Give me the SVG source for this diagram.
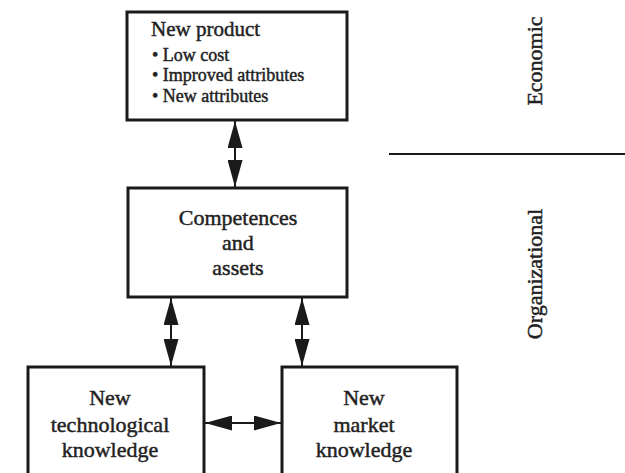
<svg xmlns="http://www.w3.org/2000/svg" width="625" height="473" viewBox="0 0 625 473">
  <style>
    .box { fill: #ffffff; stroke: #1a1a1a; stroke-width: 3; }
    .txt { font-family: "Liberation Serif", "Times New Roman", serif; fill: #222222; stroke: #222222; stroke-width: 0.45; }
    .title { font-size: 21px; }
    .item { font-size: 18px; }
    .label { font-size: 22px; text-anchor: middle; }
    .side { font-size: 22px; text-anchor: middle; }
    .link { stroke: #1a1a1a; stroke-width: 2; fill: none; marker-start: url(#head); marker-end: url(#head); }
    .rule { stroke: #1a1a1a; stroke-width: 2; }
  </style>
  <defs>
    <marker id="head" viewBox="0 0 27 15" refX="27" refY="7.5" markerWidth="27" markerHeight="15" markerUnits="userSpaceOnUse" orient="auto-start-reverse">
      <path d="M0,0 L27,7.5 L0,15 Z" fill="#1a1a1a"/>
    </marker>
  </defs>
  <rect width="625" height="473" fill="#ffffff"/>

  <g id="connectors">
    <line class="link" x1="235" y1="121" x2="235" y2="187"/>
    <line class="link" x1="171" y1="298" x2="171" y2="366"/>
    <line class="link" x1="302" y1="298" x2="302" y2="366"/>
    <line class="link" x1="205" y1="423" x2="281" y2="423"/>
  </g>

  <g id="new-product">
    <rect class="box" x="127" y="12" width="220" height="108"/>
    <text class="txt title" x="151" y="36">New product</text>
    <text class="txt item" x="152" y="61">• Low cost</text>
    <text class="txt item" x="152" y="81">• Improved attributes</text>
    <text class="txt item" x="152" y="102">• New attributes</text>
  </g>

  <g id="competences">
    <rect class="box" x="128" y="188" width="219" height="109"/>
    <text class="txt label" x="238" y="225">Competences</text>
    <text class="txt label" x="238" y="250">and</text>
    <text class="txt label" x="238" y="275">assets</text>
  </g>

  <g id="tech-knowledge">
    <rect class="box" x="28" y="367" width="176" height="120"/>
    <text class="txt label" x="110" y="405">New</text>
    <text class="txt label" x="110" y="432">technological</text>
    <text class="txt label" x="110" y="457">knowledge</text>
  </g>

  <g id="market-knowledge">
    <rect class="box" x="282" y="367" width="175" height="120"/>
    <text class="txt label" x="364" y="405">New</text>
    <text class="txt label" x="364" y="432">market</text>
    <text class="txt label" x="364" y="457">knowledge</text>
  </g>

  <g id="levels">
    <line class="rule" x1="389" y1="154" x2="625" y2="154"/>
    <text class="txt side" transform="translate(542,61) rotate(-90)">Economic</text>
    <text class="txt side" transform="translate(542,274) rotate(-90)">Organizational</text>
  </g>
</svg>
